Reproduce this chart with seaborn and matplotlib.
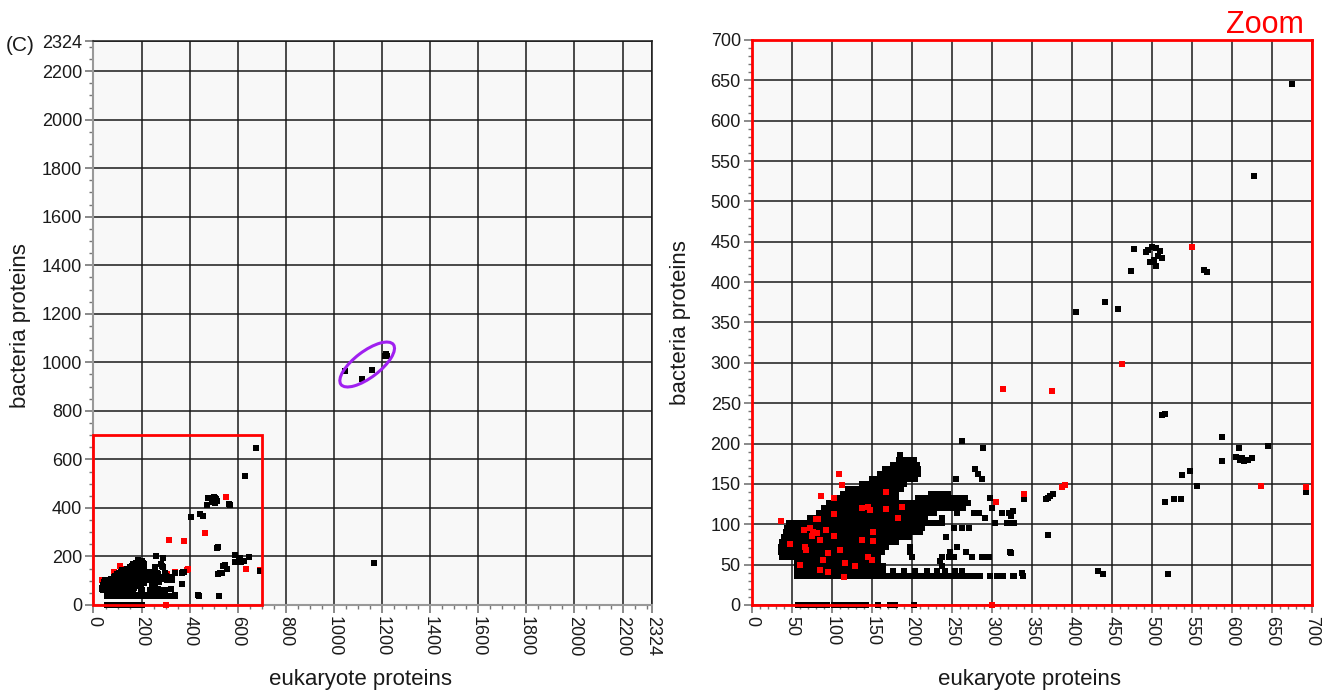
import numpy as np
import pandas as pd
import matplotlib
matplotlib.use("Agg")
import matplotlib.pyplot as plt
import seaborn as sns
from matplotlib.ticker import FixedLocator, MultipleLocator
from matplotlib.patches import Rectangle, Ellipse

# ---------------- data ----------------
# dense cluster of black points, listed row by row (bacteria value, eukaryote values)
blob_row_y = [36, 42, 48, 54, 60, 66, 72, 78, 84, 90, 96, 102, 108, 114, 120,
              126, 132, 138, 144, 150, 156, 162, 168, 174, 180]
blob_row_x = [
    [56, 62, 68, 74, 80, 86, 92, 98, 104, 110, 116, 122, 128, 134, 140, 146, 152, 158, 164, 170, 176, 182, 188,
     194, 200, 206, 214, 220, 226, 232, 238, 244, 250, 256, 262, 270, 277, 285, 297, 306, 314, 327, 339],
    [56, 62, 68, 74, 80, 86, 92, 98, 104, 110, 116, 122, 128, 134, 140, 146, 152, 158, 164, 176, 190, 204, 219,
     231, 241, 254, 262],
    [56, 62, 68, 74, 80, 86, 92, 98, 104, 110, 116, 122, 128, 134, 140, 146, 152, 158, 164, 237],
    [56, 62, 68, 74, 80, 86, 92, 98, 104, 110, 116, 122, 128, 134, 140, 146, 152, 158, 235],
    [38, 44, 50, 56, 62, 68, 74, 80, 86, 92, 98, 104, 110, 116, 122, 128, 134, 140, 146, 152, 158, 200, 237,
     246, 252, 275, 287, 291, 296],
    [36, 42, 48, 54, 60, 66, 72, 78, 84, 90, 96, 102, 108, 114, 120, 126, 132, 138, 144, 150, 156, 162, 198,
     248, 268, 323],
    [36, 42, 48, 54, 60, 66, 72, 78, 84, 90, 96, 102, 108, 114, 120, 126, 132, 138, 144, 150, 156, 162, 168,
     198, 256],
    [38, 44, 50, 56, 62, 68, 74, 80, 86, 92, 98, 104, 110, 116, 122, 128, 134, 140, 146, 152, 158, 164, 170,
     176, 180],
    [40, 46, 52, 58, 64, 70, 76, 82, 88, 94, 100, 106, 112, 118, 124, 130, 136, 142, 148, 154, 160, 166, 172,
     178, 184, 190, 196, 243],
    [42, 48, 54, 60, 66, 72, 78, 84, 90, 96, 102, 108, 114, 120, 126, 132, 138, 144, 150, 156, 162, 168, 174,
     180, 186, 192, 198, 204, 210],
    [44, 50, 56, 62, 68, 74, 80, 86, 92, 98, 104, 110, 116, 122, 128, 134, 140, 146, 152, 158, 164, 170, 176,
     182, 188, 194, 200, 206, 212, 252, 262, 271],
    [46, 52, 58, 64, 70, 76, 82, 88, 94, 100, 106, 112, 118, 124, 130, 136, 142, 148, 154, 160, 166, 172, 178,
     184, 190, 196, 202, 208, 214, 220, 226, 232, 238, 304, 319, 327],
    [72, 78, 84, 90, 96, 102, 108, 114, 120, 126, 132, 138, 144, 150, 156, 162, 168, 174, 180, 186, 192, 198,
     204, 210, 216, 237, 291],
    [84, 90, 96, 102, 108, 114, 120, 126, 132, 138, 144, 150, 156, 162, 168, 174, 180, 186, 192, 198, 204, 210,
     216, 222, 228, 256, 278, 284, 312, 321],
    [90, 96, 102, 108, 114, 120, 126, 132, 138, 144, 150, 156, 162, 168, 174, 180, 186, 192, 198, 204, 210, 216,
     222, 228, 234, 240, 246, 252, 258, 264, 300],
    [96, 102, 108, 114, 120, 126, 132, 138, 144, 150, 156, 162, 168, 174, 180, 186, 192, 198, 204, 210, 216,
     222, 228, 234, 240, 246, 252, 258, 264, 270],
    [108, 114, 120, 126, 132, 138, 144, 150, 156, 162, 168, 174, 180, 207, 213, 219, 225, 231, 237, 243, 249,
     255, 261, 266, 298],
    [114, 120, 126, 132, 138, 144, 150, 156, 162, 168, 174, 180, 224, 230, 237, 245],
    [120, 126, 132, 138, 144, 150, 156, 162, 168, 174, 180, 186],
    [138, 144, 150, 156, 162, 168, 174, 180, 186, 190],
    [150, 156, 162, 168, 174, 180, 186, 192, 198, 204, 255, 288],
    [160, 166, 172, 178, 184, 190, 196, 202, 208, 283],
    [166, 172, 178, 184, 190, 196, 202, 208, 279],
    [176, 182, 188, 194, 200, 206],
    [184, 190, 196, 202],
]

# scattered black points (eukaryote, bacteria)
black_x = [185, 262, 289, 478, 495, 500, 505, 510, 508, 502, 498, 505, 512, 493, 474, 565, 569, 441, 457, 405,
           675, 628, 513, 516, 588, 609, 645, 588, 605, 610, 615, 620, 625, 612, 547, 537, 556, 693, 516, 528,
           536, 370, 433, 439, 520, 367, 370, 373, 376, 340, 322, 324, 326, 324, 326, 338,
           1044, 1117, 1158, 1211, 1216, 1220, 1165]
black_y = [186, 203, 194, 441, 440, 444, 442, 438, 432, 428, 425, 420, 430, 437, 414, 415, 413, 376, 367, 363,
           645, 531, 235, 237, 208, 194, 197, 179, 183, 180, 178, 180, 182, 182, 166, 161, 148, 140, 128, 131,
           131, 87, 42, 39, 38, 131, 133, 135, 137, 131, 102, 110, 117, 64, 36, 40,
           964, 931, 968, 1026, 1033, 1027, 173]

# black points with zero bacteria proteins
zero_black_x = [58, 64, 70, 76, 82, 88, 94, 102, 108, 114, 120, 126, 131, 135, 140, 143, 157, 173, 179, 203]

# red points (eukaryote, bacteria)
red_x = [36, 109, 113, 86, 103, 103, 80, 83, 48, 65, 72, 60, 76, 75, 95, 115, 145, 147, 138, 168, 168, 188,
         182, 151, 151, 150, 145, 137, 85, 66, 68, 85, 89, 116, 129, 110, 95, 81, 93, 102,
         305, 340, 300, 314, 375, 462, 550, 387, 391, 636, 693]
red_y = [104, 162, 149, 135, 133, 113, 107, 107, 76, 93, 96, 49, 91, 85, 41, 35, 122, 118, 120, 140, 119, 122,
         108, 91, 79, 56, 60, 81, 43, 72, 68, 80, 56, 52, 48, 68, 64, 89, 93, 85,
         128, 137, 0, 268, 265, 298, 444, 146, 149, 147, 146]

# axis ticks
left_ticks = [0, 200, 400, 600, 800, 1000, 1200, 1400, 1600, 1800, 2000, 2200, 2324]
right_ticks = list(range(0, 701, 50))

# ---------------- build table ----------------
recs = []
for yv, xs in zip(blob_row_y, blob_row_x):
    for xv in xs:
        recs.append((xv, yv, "black"))
for xv, yv in zip(black_x, black_y):
    recs.append((xv, yv, "black"))
for xv in zero_black_x:
    recs.append((xv, 0, "black"))
for xv, yv in zip(red_x, red_y):
    recs.append((xv, yv, "red"))
df = pd.DataFrame(recs, columns=["eukaryote", "bacteria", "kind"])

# ---------------- style ----------------
sns.set_theme(style="white")
plt.rcParams["font.family"] = ["Liberation Sans", "DejaVu Sans"]

fig = plt.figure(figsize=(13.26, 6.93), dpi=100)
axL = fig.add_axes([0.0705, 0.127, 0.4215, 0.8138])
axR = fig.add_axes([0.5671, 0.127, 0.4223, 0.8153])

MS = 15
COLORS = {"black": "black", "red": "#ff0000"}


def draw_points(ax, d, order):
    for z, kind in enumerate(order):
        sub = d[d["kind"] == kind]
        sns.scatterplot(data=sub, x="eukaryote", y="bacteria", color=COLORS[kind], marker="s", s=MS,
                        linewidth=0, ax=ax, clip_on=False, zorder=3 + 0.1 * z, legend=False)


def style_axes(ax, lim, major, minor_step):
    ax.set_facecolor("#f8f8f8")
    ax.set_xlim(0, lim)
    ax.set_ylim(0, lim)
    ax.xaxis.set_major_locator(FixedLocator(major))
    ax.yaxis.set_major_locator(FixedLocator(major))
    ax.xaxis.set_minor_locator(MultipleLocator(minor_step))
    ax.yaxis.set_minor_locator(MultipleLocator(minor_step))
    ax.set_xticklabels([str(t) for t in major])
    ax.set_yticklabels([str(t) for t in major])
    ax.grid(True, which="major", color="#1a1a1a", linewidth=1.1)
    ax.set_axisbelow(True)
    ax.tick_params(which="major", direction="out", length=6, width=1.2, color="#777777",
                   labelsize=13, labelcolor="#1a1a1a", bottom=True, left=True, pad=2)
    ax.tick_params(which="minor", direction="out", length=3, width=1.0, color="#777777",
                   bottom=True, left=True)
    ax.tick_params(axis="x", which="major", labelrotation=-90)
    ax.set_xlabel("eukaryote proteins", fontsize=16, color="#1a1a1a")
    ax.set_ylabel("bacteria proteins", fontsize=16, color="#1a1a1a")


# left panel (full range): black drawn over red, as the overview shows
draw_points(axL, df, ["red", "black"])
style_axes(axL, 2324, left_ticks, 50)
for s in ["left", "bottom"]:
    axL.spines[s].set_color("#999999")
    axL.spines[s].set_linewidth(1.5)
for s in ["top", "right"]:
    axL.spines[s].set_color("#1a1a1a")
    axL.spines[s].set_linewidth(1.1)
axL.add_patch(Rectangle((0, 0), 700, 700, fill=False, edgecolor="#ff0000", linewidth=2.0,
                        zorder=4, clip_on=False))
axL.add_patch(Ellipse((1138, 991), width=273, height=107, angle=37, fill=False,
                      edgecolor="#a020f0", linewidth=2.2, zorder=4))
axL.xaxis.set_label_coords(0.478, -0.114)
axL.yaxis.set_label_coords(-0.112, 0.495)

# right panel (zoom)
dz = df[(df["eukaryote"] <= 700) & (df["bacteria"] <= 700)]
draw_points(axR, dz, ["black", "red"])
style_axes(axR, 700, right_ticks, 10)
for s in ["left", "bottom", "top", "right"]:
    axR.spines[s].set_color("#ff0000")
    axR.spines[s].set_linewidth(2.0)
    axR.spines[s].set_zorder(5)
axR.xaxis.set_label_coords(0.496, -0.114)
axR.yaxis.set_label_coords(-0.109, 0.5)

fig.text(0.004, 0.935, "(C)", fontsize=15, color="#1a1a1a", ha="left", va="center")
fig.text(0.954, 0.964, "Zoom", fontsize=22, color="#ff0000", ha="center", va="center")

fig.savefig("out.png", dpi=100, facecolor="white")
